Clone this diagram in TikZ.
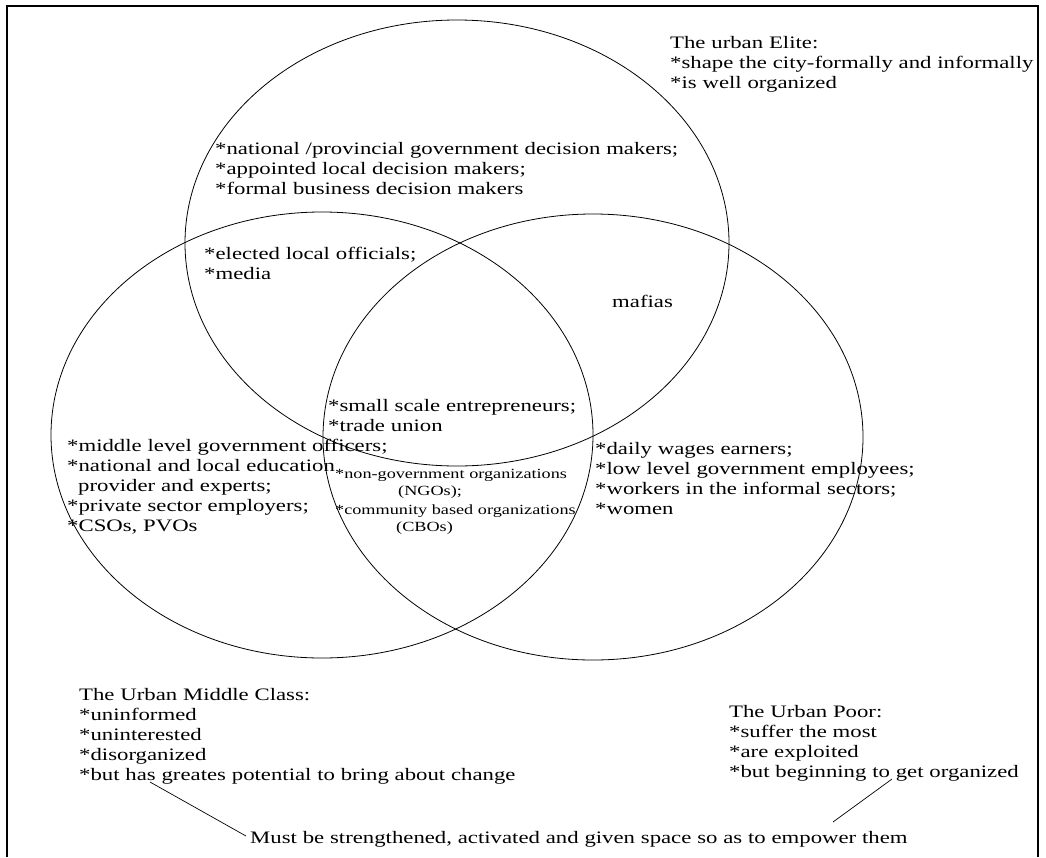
\documentclass[tikz,border=0pt]{standalone}
\usepackage{fontspec}
\setmainfont[FakeStretch=1.3]{Liberation Serif}
\begin{document}
\begin{tikzpicture}[x=1pt,y=-1pt,
  ell/.style={draw=black,line width=0.8pt},
  frame/.style={draw=black,line width=1.2pt},
  txt/.style={anchor=base west,inner sep=0pt,align=left,text width=900pt,font=\fontsize{17.5}{20}\selectfont},
  smalltxt/.style={anchor=base west,inner sep=0pt,align=left,text width=400pt,font=\fontsize{14}{17.5}\selectfont},
  conn/.style={draw=black,line width=0.7pt}]
\useasboundingbox (0,0) rectangle (1046,857);
\draw[frame] (7,857) -- (7,6) -- (1038,6) -- (1038,857);
% three ellipses of the Venn diagram
\draw[ell] (457,243) ellipse [x radius=272pt,y radius=223pt];
\draw[ell] (322,435) ellipse [x radius=271pt,y radius=223pt];
\draw[ell] (593,437) ellipse [x radius=270pt,y radius=223pt];
% texts
\node[txt] (elite) at (670,48) {The urban Elite:\\{}*shape the city-formally and informally\\{}*is well organized};
\node[txt] (top) at (215,154) {*national /provincial government decision makers;\\{}*appointed local decision makers;\\{}*formal business decision makers};
\node[txt] (elected) at (204,259) {*elected local officials;\\{}*media};
\node[txt] (mafias) at (612,307) {mafias};
\node[txt] (centre) at (328,411) {*small scale entrepreneurs;\\{}*trade union};
\node[smalltxt] (ngo) at (335,478) {*non-government organizations\\\hspace*{63pt}(NGOs);\\[1pt]{}*community based organizations\\\hspace*{61pt}(CBOs)};
\node[txt] (midgroups) at (67,451) {*middle level government officers;\\{}*national and local education\\\hspace*{11pt}provider and experts;\\{}*private sector employers;\\{}*CSOs, PVOs};
\node[txt] (poorgroups) at (595,454) {*daily wages earners;\\{}*low level government employees;\\{}*workers in the informal sectors;\\{}*women};
\node[txt] (middle) at (79,700) {The Urban Middle Class:\\{}*uninformed\\{}*uninterested\\{}*disorganized\\{}*but has greates potential to bring about change};
\node[txt] (poor) at (729,717) {The Urban Poor:\\{}*suffer the most\\{}*are exploited\\{}*but beginning to get organized};
\node[txt] (must) at (250,843) {Must be strengthened, activated and given space so as to empower them};
% connectors
\coordinate (hasS) at (150,782);
\coordinate (mustL) at (246,836);
\coordinate (getG) at (892,779);
\coordinate (empE) at (833,822);
\draw[conn] (hasS) -- (mustL);
\draw[conn] (getG) -- (empE);
\end{tikzpicture}
\end{document}
